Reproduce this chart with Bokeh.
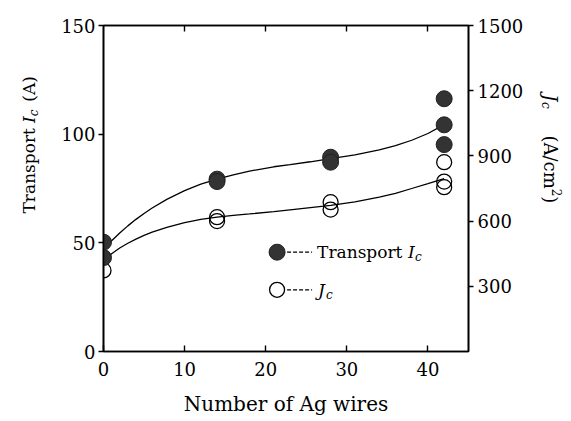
import math
from bokeh.plotting import figure
from bokeh.layouts import row
from bokeh.models import Range1d, LinearAxis, FixedTicker, Label
from bokeh.embed import file_html
from bokeh.resources import INLINE

# ---- data ----
ic_x = [0, 0, 14, 14, 28, 28, 42, 42, 42]
ic_y = [50.3, 43.2, 79.3, 78.2, 89.4, 87.1, 116.3, 104.3, 95.2]          # Transport Ic (A)
jc_x = [0, 14, 14, 28, 28, 42, 42, 42]
jc_y = [373, 618, 600, 687, 653, 871, 782, 756]                          # Jc (A/cm2)

fit_x = [0, 1, 2, 3, 4, 5, 6, 7.8, 10, 12, 14, 16, 18, 21, 23, 25.5, 28, 31, 34, 36, 38, 40, 42]
ic_fit = [47.0, 51.0, 54.5, 57.8, 60.8, 63.5, 66.0, 70.0, 74.0, 77.0, 79.3, 81.3, 83.0, 85.0,
          86.0, 87.3, 88.7, 90.5, 92.8, 94.7, 97.2, 100.3, 104.4]
jc_fit = [420, 450, 476, 498, 517, 534, 549, 571, 593, 608, 618, 626, 633, 644, 652, 662,
          672, 688, 710, 728, 750, 772, 795]

x_ticks = [0, 10, 20, 30, 40]
ic_ticks = [0, 50, 100, 150]
jc_ticks = [300, 600, 900, 1200, 1500]

XMAX, ICMAX, JCMAX = 45, 150, 1500

# ---- layout ----
H = 421
WL, WR = 53, 43                 # side panels holding the rotated axis titles
ML, MR, MT, MB = 50, 60, 25, 70
FW, FH = 365, H - MT - MB
W = ML + FW + MR
FONT = "DejaVu Serif"


def dx(px):
    return px * XMAX / FW


def dy(px):
    return px * ICMAX / FH


p = figure(width=W, height=H, output_backend="svg", toolbar_location=None,
           x_range=Range1d(0, XMAX), y_range=Range1d(0, ICMAX),
           min_border_left=ML, min_border_right=MR, min_border_top=MT, min_border_bottom=MB)
p.extra_y_ranges = {"jc": Range1d(0, JCMAX)}
p.xgrid.visible = False
p.ygrid.visible = False
p.outline_line_color = "black"
p.outline_line_width = 1.6
p.background_fill_color = "white"
p.border_fill_color = "white"


def style_axis(ax, ticks, tin, tout, standoff, show_labels=True):
    ax.ticker = FixedTicker(ticks=ticks)
    ax.axis_line_color = "black"
    ax.axis_line_width = 1.6
    ax.major_tick_line_color = "black"
    ax.major_tick_line_width = 1.4
    ax.major_tick_in = tin
    ax.major_tick_out = tout
    ax.minor_tick_line_color = None
    ax.major_label_standoff = standoff
    ax.major_label_text_font = FONT
    ax.major_label_text_color = "black"
    ax.major_label_text_font_size = "18px"
    if not show_labels:
        ax.major_label_overrides = {t: "" for t in ticks}


xa = p.xaxis[0]
style_axis(xa, x_ticks, 6, 0, 10)
xa.axis_label = "Number of Ag wires"
xa.axis_label_text_font = FONT
xa.axis_label_text_font_size = "20px"
xa.axis_label_text_font_style = "normal"
xa.axis_label_text_color = "black"
xa.axis_label_standoff = 13

style_axis(p.yaxis[0], ic_ticks, 0, 5, 3)

right = LinearAxis(y_range_name="jc")
style_axis(right, jc_ticks, 0, 5, 4)
p.add_layout(right, "right")

top = LinearAxis()
style_axis(top, [10, 20, 30, 40], 6, 0, 0, show_labels=False)
p.add_layout(top, "above")

# ---- marks ----
p.scatter(jc_x, jc_y, y_range_name="jc", size=15, marker="circle",
          fill_alpha=0, line_color="black", line_width=1.3)
p.line(fit_x, ic_fit, line_color="black", line_width=1.3)
p.line(fit_x, jc_fit, y_range_name="jc", line_color="black", line_width=1.3)
p.scatter(ic_x, ic_y, size=16, marker="circle", fill_color="#333333",
          line_color="#222222", line_width=1)

# ---- legend (drawn by hand) ----
leg_x = 21.4
leg_y = [45.7, 28.4]
p.scatter([leg_x], [leg_y[0]], size=16, marker="circle", fill_color="#333333",
          line_color="#222222", line_width=1)
p.scatter([leg_x], [leg_y[1]], size=15, marker="circle", fill_alpha=0,
          line_color="black", line_width=1.3)
for yy in leg_y:
    p.line([leg_x + dx(10), leg_x + dx(35)], [yy, yy], line_color="black",
           line_width=1.2, line_dash="4 2")


def txt(fig, x, y, s, size=17, style="normal", angle=0, align="left", baseline="middle"):
    fig.add_layout(Label(x=x, y=y, text=s, text_font=FONT, text_font_size=f"{size}px",
                         text_font_style=style, text_color="black", angle=angle,
                         text_align=align, text_baseline=baseline))


tx = leg_x + dx(40)
txt(p, tx, leg_y[0], "Transport")
txt(p, tx + dx(91), leg_y[0], "I", style="italic")
txt(p, tx + dx(98), leg_y[0] - dy(5), "c", size=12, style="italic")
txt(p, tx + dx(1), leg_y[1], "J", style="italic")
txt(p, tx + dx(9), leg_y[1] - dy(5), "c", size=12, style="italic")


# ---- side panels for the rotated y titles ----
# the row aligns their frames with the main frame, so the y range is set to
# run in page pixels (351 at the frame bottom, 25 at its top)
def side(width):
    f = figure(width=width, height=H, output_backend="svg", toolbar_location=None,
               x_range=Range1d(0, width), y_range=Range1d(H - MB, MT),
               x_axis_type=None, y_axis_type=None, min_border=0)
    f.xgrid.visible = False
    f.ygrid.visible = False
    f.outline_line_color = None
    f.background_fill_color = "white"
    f.border_fill_color = "white"
    return f


pl = side(WL)
up = math.pi / 2
lx = 28
txt(pl, lx, 170.3, "Transport", angle=up, align="center")
txt(pl, lx, 119.1, "I", style="italic", angle=up, align="center")
txt(pl, lx + 5, 112.5, "c", size=12, style="italic", angle=up, align="center")
txt(pl, lx, 88.4, "(A)", angle=up, align="center")

pr = side(WR)
dn = -math.pi / 2
rx = 22
txt(pr, rx, 97.3, "J", size=18, style="italic", angle=dn, align="center")
txt(pr, rx - 5, 104.9, "c", size=12, style="italic", angle=dn, align="center")
txt(pr, rx, 161.6, "(A/cm", size=18, angle=dn, align="center")
txt(pr, rx + 6, 192.0, "2", size=12, angle=dn, align="center")
txt(pr, rx, 199.3, ")", size=18, angle=dn, align="center")

layout = row(pl, p, pr)
open("out.html", "w").write(file_html(layout, INLINE))
